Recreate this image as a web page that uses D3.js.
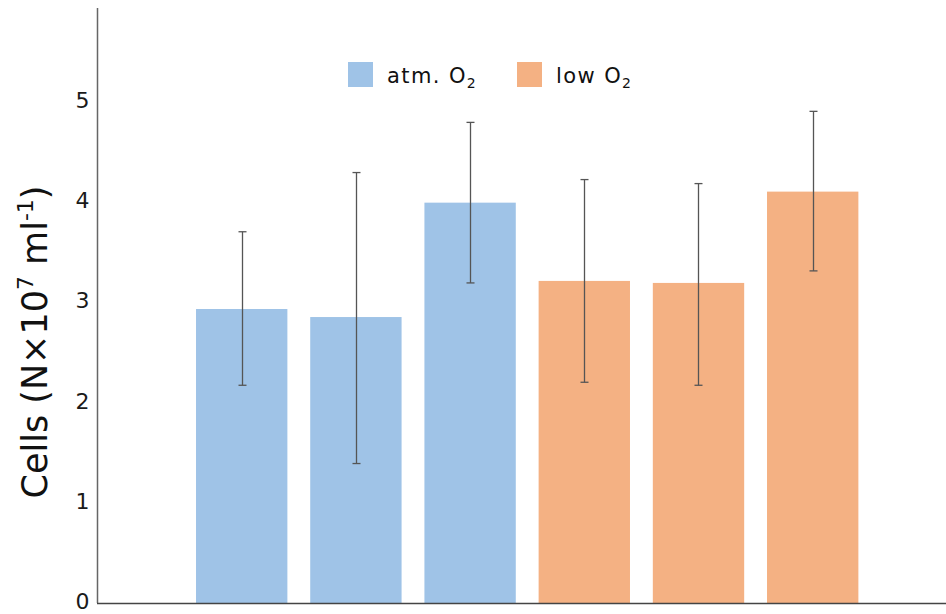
<!DOCTYPE html>
<html>
<head>
<meta charset="utf-8">
<script src="https://cdn.jsdelivr.net/npm/d3@7"></script>
<style>
  body { margin: 0; background: #fff; }
  text { font-family: "DejaVu Sans", Verdana, sans-serif; }
</style>
</head>
<body>
<svg id="chart"></svg>
<script>
// bar values
const groups = ['a1', 'a2', 'a3', 'l1', 'l2', 'l3']
const series = ['atm', 'atm', 'atm', 'low', 'low', 'low']
const values = [2.93, 2.85, 3.99, 3.21, 3.19, 4.10]
const errHigh = [3.70, 4.29, 4.79, 4.22, 4.18, 4.90]
const errLow = [2.17, 1.39, 3.19, 2.20, 2.17, 3.31]
const yTicks = [0, 1, 2, 3, 4, 5]

const colors = { atm: '#9fc3e7', low: '#f4b183' }

const width = 946
const height = 614

const svg = d3.select('#chart')
    .attr('width', width)
    .attr('height', height)

const x = d3.scaleBand()
    .domain(groups)
    .range([184.6, 869.8])
    .paddingInner(0.2)
    .paddingOuter(0.1)

const y = d3.scaleLinear()
    .domain([0, 5.93])
    .range([603, 8])

// bars
svg.selectAll('rect.bar')
    .data(groups)
    .enter()
    .append('rect')
    .attr('class', 'bar')
    .attr('x', d => x(d))
    .attr('width', x.bandwidth())
    .attr('y', (d, i) => y(values[i]))
    .attr('height', (d, i) => y(0) - y(values[i]))
    .attr('fill', (d, i) => colors[series[i]])

// error bars
const err = svg.append('g')
    .attr('stroke', '#555')
    .attr('stroke-width', 1.3)

groups.forEach((g, i) => {
    const cx = Math.round(x(g) + x.bandwidth() / 2) + 0.5
    err.append('line')
        .attr('x1', cx).attr('x2', cx)
        .attr('y1', y(errHigh[i])).attr('y2', y(errLow[i]))
    err.append('line')
        .attr('x1', cx - 4).attr('x2', cx + 4)
        .attr('y1', y(errHigh[i])).attr('y2', y(errHigh[i]))
    err.append('line')
        .attr('x1', cx - 4).attr('x2', cx + 4)
        .attr('y1', y(errLow[i])).attr('y2', y(errLow[i]))
})

// y axis, labels only
const yAxis = svg.append('g')
    .attr('transform', 'translate(97.5,0)')
    .call(d3.axisLeft(y).tickValues(yTicks).tickSize(0).tickPadding(8).tickFormat(d3.format('d')))

yAxis.select('.domain')
    .attr('d', `M0,${y.range()[1]}V${y(0)}`)
    .attr('stroke', '#666')
    .attr('stroke-width', 1.5)

yAxis.selectAll('text')
    .attr('font-size', 22)
    .attr('dy', '0.26em')
    .attr('fill', '#1a1a1a')
    .attr('font-family', '"DejaVu Sans", Verdana, sans-serif')

// x axis line
svg.append('line')
    .attr('x1', 97).attr('x2', width)
    .attr('y1', y(0) + 0.5).attr('y2', y(0) + 0.5)
    .attr('stroke', '#444')
    .attr('stroke-width', 1.5)

// y title
const title = svg.append('text')
    .attr('transform', 'translate(47,342) rotate(-90)')
    .attr('text-anchor', 'middle')
    .attr('font-family', '"DejaVu Sans Condensed", "DejaVu Sans", sans-serif')
    .attr('font-size', 35)
    .attr('fill', '#111')
title.append('tspan').text('Cells (N×10')
title.append('tspan').text('7').attr('font-size', 22).attr('dy', -14)
title.append('tspan').text(' ml').attr('font-size', 35).attr('dy', 14)
title.append('tspan').text('-1').attr('font-size', 22).attr('dy', -14)
title.append('tspan').text(')').attr('font-size', 35).attr('dy', 14)

// legend
const legendItems = [
    { key: 'atm', label: 'atm. O', x: 348 },
    { key: 'low', label: 'low O', x: 517 }
]
const legend = svg.append('g')
legendItems.forEach(it => {
    legend.append('rect')
        .attr('x', it.x).attr('y', 62)
        .attr('width', 25).attr('height', 25)
        .attr('fill', colors[it.key])
    const t = legend.append('text')
        .attr('x', it.x + 39).attr('y', 83)
        .attr('font-size', 21)
        .attr('letter-spacing', 1.4)
        .attr('fill', '#111')
    t.append('tspan').text(it.label)
    t.append('tspan').text('2').attr('font-size', 14).attr('dy', 5)
})
</script>
</body>
</html>
